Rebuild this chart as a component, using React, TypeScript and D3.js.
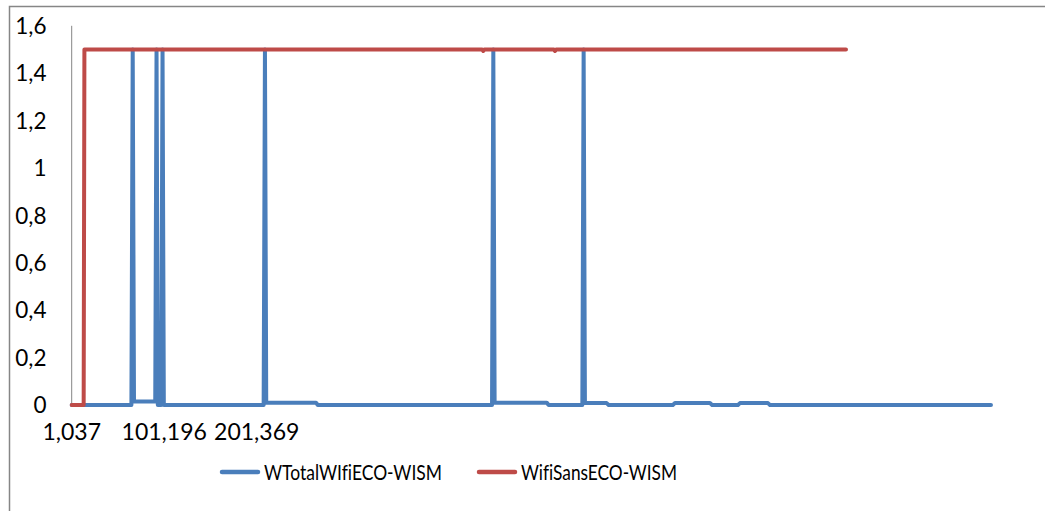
import React from "react";
import * as d3 from "d3";

// Series: WTotalWIfiECO-WISM (blue)
const blueTime = [1.037, 65.7, 67.1, 68.5, 89.1, 91.5, 92.9, 94.3, 98.0, 99.4, 100.8, 208.9, 210.3, 211.7, 265.6, 267.5, 456.2, 457.6, 459.0, 515.4, 517.5, 554.0, 555.4, 556.8, 580.3, 582.5, 652.0, 654.3, 692.2, 694.5, 722.5, 724.7, 755.0, 757.2, 996.5];
const blueValue = [0, 0, 1.5, 0.015, 0.015, 0.015, 1.5, 0, 0, 1.5, 0, 0, 1.5, 0.01, 0.01, 0, 0, 1.5, 0.01, 0.01, 0, 0, 1.5, 0.008, 0.008, 0, 0, 0.008, 0.008, 0, 0, 0.008, 0.008, 0, 0];

// Series: WifiSansECO-WISM (red)
const redTime = [1.037, 14.0, 14.8, 445.5, 446.7, 447.9, 523.2, 524.4, 525.6, 839.5];
const redValue = [0, 0, 1.5, 1.5, 1.494, 1.5, 1.5, 1.494, 1.5, 1.5];

const yTicks = [0, 0.2, 0.4, 0.6, 0.8, 1, 1.2, 1.4, 1.6];
const xTickValues = [1.037, 101.196, 201.369];
const xTickLabels = ["1,037", "101,196", "201,369"];
const seriesNames = ["WTotalWIfiECO-WISM", "WifiSansECO-WISM"];
const seriesColors = ["#4A7EBB", "#BE4B48"];

const FONT = "Lato, 'Open Sans', sans-serif";

export default function App() {
  const x = d3.scaleLinear().domain([1.037, 201.369]).range([71.7, 256.7]);
  const y = d3.scaleLinear().domain([0, 1.5]).range([405, 49.5]);
  const line = d3
    .line<[number, number]>()
    .x((d) => x(d[0]))
    .y((d) => y(d[1]));
  const blue = blueTime.map((t, i) => [t, blueValue[i]] as [number, number]);
  const red = redTime.map((t, i) => [t, redValue[i]] as [number, number]);
  const fmt = (v: number) => String(+v.toFixed(1)).replace(".", ",");
  const legendX = [220, 477];
  const legendTextWidth = [178, 156];

  return (
    <svg
      width={1045}
      height={511}
      style={{ position: "absolute", left: 0, top: 0, background: "#fff", fontVariantLigatures: "none" }}
      fontFamily={FONT}
    >
      <rect x={9.5} y={6.5} width={1200} height={700} fill="#fff" stroke="#868686" strokeWidth={1.5} />
      <line x1={71.7} x2={71.7} y1={y(1.6)} y2={y(0)} stroke="#868686" strokeWidth={1} />
      {yTicks.map((t) => (
        <text key={t} x={46.5} y={y(t)} dy="0.36em" textAnchor="end" fontSize={22.5} fill="#000">
          {fmt(t)}
        </text>
      ))}
      {xTickValues.map((t, i) => (
        <text key={t} x={x(t)} y={440} textAnchor="middle" fontSize={23} fill="#000">
          {xTickLabels[i]}
        </text>
      ))}
      <path d={line(blue) || ""} fill="none" stroke={seriesColors[0]} strokeWidth={4} strokeLinejoin="round" strokeLinecap="round" />
      <path d={line(red) || ""} fill="none" stroke={seriesColors[1]} strokeWidth={4} strokeLinejoin="round" strokeLinecap="round" />
      {legendX.map((lx, i) => (
        <g key={i}>
          <line x1={lx + 2} x2={lx + 38} y1={472} y2={472} stroke={seriesColors[i]} strokeWidth={4.5} strokeLinecap="round" />
          <text
            x={lx + 44}
            y={479.5}
            fontSize={22}
            fill="#000"
            textLength={legendTextWidth[i]}
            lengthAdjust="spacingAndGlyphs"
          >
            {seriesNames[i]}
          </text>
        </g>
      ))}
    </svg>
  );
}
